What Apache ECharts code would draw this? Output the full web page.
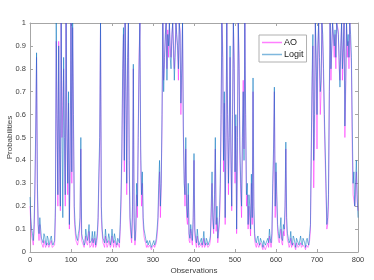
<!DOCTYPE html>
<html><head><meta charset="utf-8">
<script src="https://cdn.jsdelivr.net/npm/echarts@6/dist/echarts.min.js"></script>
<style>html,body{margin:0;padding:0;background:#fff}#c{width:374px;height:280px}</style>
</head><body><div id="c"></div>
<script>
// Values at observations 0,4,8,...,800
const logitValues = [0.24,0.10,0.05,0.30,0.87,0.12,0.15,0.06,0.04,0.07,0.03,0.06,0.04,0.07,0.03,0.05,1.0,0.25,0.45,1.0,0.15,0.5,1.0,0.3,0.12,1.0,1.0,0.2,0.08,0.05,0.1,0.5,0.06,0.03,0.1,0.05,0.12,0.04,0.09,0.06,0.03,0.08,0.35,1.0,0.1,0.05,0.1,0.04,0.08,0.03,0.1,0.04,0.06,0.03,0.05,0.12,0.45,0.98,1.0,0.3,1.0,0.15,0.06,0.82,0.05,0.3,0.5,1.0,0.25,0.15,0.08,0.04,0.03,0.05,0.02,0.04,0.03,0.06,0.15,0.4,0.3,1.0,0.85,1.0,0.95,1.0,0.8,1.0,0.75,1.0,0.9,1.0,0.65,1.0,0.3,0.5,0.15,0.08,0.12,0.05,0.43,0.06,0.1,0.03,0.05,0.03,0.09,0.03,0.05,0.04,0.07,0.35,0.1,0.5,0.2,0.1,0.3,1.0,0.4,0.15,1.0,0.3,0.9,0.2,1.0,0.35,0.1,1.0,0.45,0.2,0.7,1.0,0.25,0.12,0.2,0.34,0.76,0.08,0.04,0.07,0.03,0.05,0.02,0.04,0.03,0.06,0.1,0.04,0.3,0.72,0.39,0.12,0.06,0.15,0.05,0.1,0.48,0.08,0.04,0.09,0.03,0.06,0.02,0.05,0.03,0.07,0.03,0.05,0.02,0.06,0.03,0.12,0.77,0.4,1.0,0.6,1.0,0.7,1.0,0.8,0.45,0.12,0.25,1.0,0.9,1.0,0.97,1.0,0.95,0.72,1.0,0.9,0.55,1.0,0.95,1.0,0.85,0.3,0.2,0.4,0.15];
// Values at observations 2,6,10,...,798
const logitMid = [
0.15,0.08,0.12,0.55,0.3,0.08,0.1,0.05,0.08,0.04,
0.07,0.03,0.06,0.04,0.04,0.2,0.6,0.9,0.2,0.55,
0.85,0.25,0.55,0.7,0.45,0.35,0.6,0.12,0.06,0.08,
0.15,0.08,0.05,0.04,0.07,0.08,0.04,0.05,0.04,0.09,
0.05,0.15,0.5,0.2,0.06,0.04,0.06,0.05,0.06,0.05,
0.06,0.08,0.04,0.06,0.04,0.25,0.8,0.4,0.7,0.85,
0.4,0.1,0.2,0.15,0.1,0.2,0.8,0.45,0.35,0.1,
0.06,0.05,0.04,0.05,0.03,0.05,0.04,0.1,0.3,0.2,
0.6,0.7,0.95,0.75,0.9,0.85,0.95,0.9,0.85,0.95,
0.8,0.95,0.8,0.55,0.25,0.2,0.3,0.06,0.08,0.15,
0.1,0.04,0.06,0.04,0.06,0.05,0.04,0.06,0.03,0.05,
0.2,0.15,0.25,0.12,0.06,0.15,0.6,0.85,0.7,0.5,
0.6,0.5,0.45,0.6,0.8,0.6,0.5,0.8,0.3,0.5,
0.4,0.6,0.3,0.25,0.1,0.15,0.2,0.05,0.06,0.04,
0.06,0.04,0.05,0.03,0.05,0.04,0.06,0.08,0.45,0.2,
0.25,0.08,0.1,0.06,0.12,0.2,0.15,0.06,0.05,0.04,
0.07,0.04,0.06,0.04,0.05,0.04,0.06,0.04,0.05,0.04,
0.08,0.45,0.95,0.6,0.85,0.9,0.85,0.75,0.95,0.6,
0.3,0.15,0.7,0.8,1.0,0.9,0.85,1.0,0.85,0.9,
0.8,1.0,0.75,0.9,0.85,0.95,0.55,0.35,0.3,0.25];
const aoValues = [0.20,0.07,0.03,0.25,0.85,0.10,0.12,0.04,0.02,0.05,0.02,0.04,0.02,0.05,0.02,0.03,0.92,0.2,0.4,1.0,0.64,0.45,1.0,0.25,0.1,1.0,0.98,0.15,0.05,0.03,0.07,0.45,0.04,0.02,0.07,0.03,0.09,0.02,0.06,0.04,0.02,0.06,0.3,1.0,0.08,0.03,0.07,0.02,0.05,0.02,0.07,0.02,0.04,0.02,0.03,0.09,0.4,0.95,1.0,0.25,1.0,0.12,0.04,0.8,0.03,0.25,0.55,1.0,0.2,0.12,0.05,0.02,0.02,0.03,0.01,0.02,0.02,0.04,0.12,0.35,0.28,1.0,0.82,1.0,0.97,1.0,0.85,1.0,0.8,1.0,0.88,1.0,0.6,1.0,0.35,0.45,0.12,0.05,0.1,0.03,0.4,0.04,0.07,0.02,0.03,0.02,0.06,0.02,0.03,0.02,0.05,0.3,0.08,0.45,0.15,0.08,0.25,1.0,0.35,0.12,1.0,0.25,0.85,0.18,1.0,0.3,0.08,1.0,0.4,0.15,0.75,1.0,0.2,0.1,0.15,0.3,0.7,0.05,0.02,0.04,0.02,0.03,0.01,0.02,0.02,0.04,0.07,0.02,0.25,0.7,0.35,0.09,0.04,0.1,0.03,0.07,0.45,0.05,0.02,0.06,0.02,0.04,0.01,0.03,0.02,0.04,0.02,0.03,0.01,0.03,0.02,0.09,0.7,0.28,1.0,0.45,1.0,0.6,1.0,0.75,0.4,0.1,0.2,1.0,0.88,1.0,0.95,1.0,0.97,0.75,1.0,0.85,0.5,1.0,0.92,1.0,0.8,0.25,0.2,0.35,0.18];
const aoMid = [
0.12,0.05,0.08,0.5,0.25,0.05,0.07,0.03,0.05,0.02,
0.04,0.02,0.04,0.02,0.02,0.15,0.55,0.92,0.18,0.5,
0.8,0.2,0.5,0.65,0.4,0.3,0.55,0.09,0.04,0.05,
0.12,0.05,0.03,0.02,0.04,0.05,0.02,0.03,0.02,0.06,
0.03,0.12,0.45,0.15,0.04,0.02,0.04,0.03,0.04,0.03,
0.04,0.05,0.02,0.04,0.02,0.2,0.75,0.35,0.65,0.8,
0.35,0.07,0.15,0.1,0.07,0.15,0.85,0.4,0.3,0.07,
0.04,0.03,0.02,0.03,0.02,0.03,0.02,0.07,0.25,0.15,
0.55,0.75,0.92,0.8,0.85,0.9,0.93,0.85,0.9,0.93,
0.75,0.97,0.75,0.5,0.2,0.15,0.25,0.04,0.05,0.12,
0.07,0.02,0.04,0.02,0.04,0.03,0.02,0.04,0.02,0.03,
0.15,0.12,0.2,0.09,0.04,0.12,0.55,0.9,0.65,0.45,
0.55,0.55,0.4,0.55,0.85,0.55,0.45,0.85,0.25,0.45,
0.45,0.55,0.25,0.2,0.07,0.12,0.15,0.03,0.04,0.02,
0.04,0.02,0.03,0.01,0.03,0.02,0.04,0.05,0.4,0.15,
0.2,0.05,0.07,0.04,0.09,0.15,0.1,0.04,0.03,0.02,
0.04,0.02,0.04,0.02,0.03,0.02,0.03,0.02,0.03,0.02,
0.05,0.4,0.9,0.5,0.8,0.85,0.8,0.7,0.9,0.55,
0.25,0.12,0.65,0.75,1.0,0.85,0.8,1.0,0.8,0.88,
0.75,1.0,0.7,0.85,0.8,0.9,0.45,0.25,0.25,0.22];
const observationStep = 2;
const xTicks = [0,100,200,300,400,500,600,700,800];
const yTickLabels = ['0','0.1','0.2','0.3','0.4','0.5','0.6','0.7','0.8','0.9','1'];

function merge(even, mid){
  const out = [];
  for (let k = 0; k < even.length; k++){
    out.push(even[k]);
    if (k < mid.length) out.push(mid[k]);
  }
  return out.map((y,i)=>[i*observationStep, y]);
}

const chart = echarts.init(document.getElementById('c'), null, {renderer:'canvas'});
const axisLineGray = '#a6a6a6';
const labelColor = '#404040';
const FONT = 'Liberation Sans, Arial, sans-serif';
chart.setOption({
  animation:false,
  backgroundColor:'#fff',
  grid:{left:30,right:16,top:23,bottom:28,containLabel:false,outerBoundsMode:'none'},
  legend:{
    left:259, top:35, orient:'vertical', itemGap:3, padding:[3,3,3,3],
    backgroundColor:'#fff', borderColor:'#b0b0b0', borderWidth:1, borderRadius:0,
    itemWidth:20, itemHeight:1.5, icon:'rect',
    textStyle:{fontFamily:FONT, fontSize:9, color:'#222', padding:[0,0,0,-3]},
    data:[{name:'AO', itemStyle:{color:'rgba(255,0,255,0.5)'}}, {name:'Logit', itemStyle:{color:'rgba(0,114,189,0.5)'}}]
  },
  xAxis:[{
    type:'value', min:0, max:800, interval:100,
    name:'Observations', nameLocation:'middle', nameGap:15, nameMoveOverlap:false,
    nameTextStyle:{fontFamily:FONT, fontSize:8, color:labelColor},
    axisLine:{show:true,onZero:false,lineStyle:{color:axisLineGray,width:1}},
    axisTick:{show:true,inside:true,length:3,lineStyle:{color:axisLineGray}},
    axisLabel:{fontFamily:FONT, fontSize:7.5, color:labelColor, margin:4,
      formatter:(v)=> xTicks.includes(v)? String(v):''},
    splitLine:{show:false}
  },{
    type:'value', min:0, max:800, interval:100, position:'top',
    axisLine:{show:true,onZero:false,lineStyle:{color:axisLineGray,width:1}},
    axisTick:{show:true,inside:true,length:3,lineStyle:{color:axisLineGray}},
    axisLabel:{show:false}, splitLine:{show:false}
  }],
  yAxis:[{
    type:'value', min:0, max:1, interval:0.1,
    name:'Probabilities', nameLocation:'middle', nameGap:16, nameRotate:90, nameMoveOverlap:false,
    nameTextStyle:{fontFamily:FONT, fontSize:8, color:labelColor},
    axisLine:{show:true,onZero:false,lineStyle:{color:axisLineGray,width:1}},
    axisTick:{show:true,inside:true,length:3,lineStyle:{color:axisLineGray}},
    axisLabel:{fontFamily:FONT, fontSize:7.5, color:labelColor, margin:4,
      formatter:(v)=>{const i=Math.round(v*10);return yTickLabels[i]!==undefined?yTickLabels[i]:'';}},
    splitLine:{show:false}
  },{
    type:'value', min:0, max:1, interval:0.1, position:'right',
    axisLine:{show:true,onZero:false,lineStyle:{color:axisLineGray,width:1}},
    axisTick:{show:true,inside:true,length:3,lineStyle:{color:axisLineGray}},
    axisLabel:{show:false}, splitLine:{show:false}
  }],
  series:[
    {name:'AO', type:'line', xAxisIndex:0, yAxisIndex:0, data:merge(aoValues, aoMid), showSymbol:false, symbol:'none',
      lineStyle:{color:'#ff00ff', width:0.9, opacity:0.5}, itemStyle:{color:'rgba(255,0,255,0.5)'}, clip:true},
    {name:'Logit', type:'line', xAxisIndex:0, yAxisIndex:0, data:merge(logitValues, logitMid), showSymbol:false, symbol:'none',
      lineStyle:{color:'#0072bd', width:0.9, opacity:0.6}, itemStyle:{color:'rgba(0,114,189,0.5)'}, clip:true}
  ]
});
</script></body></html>
